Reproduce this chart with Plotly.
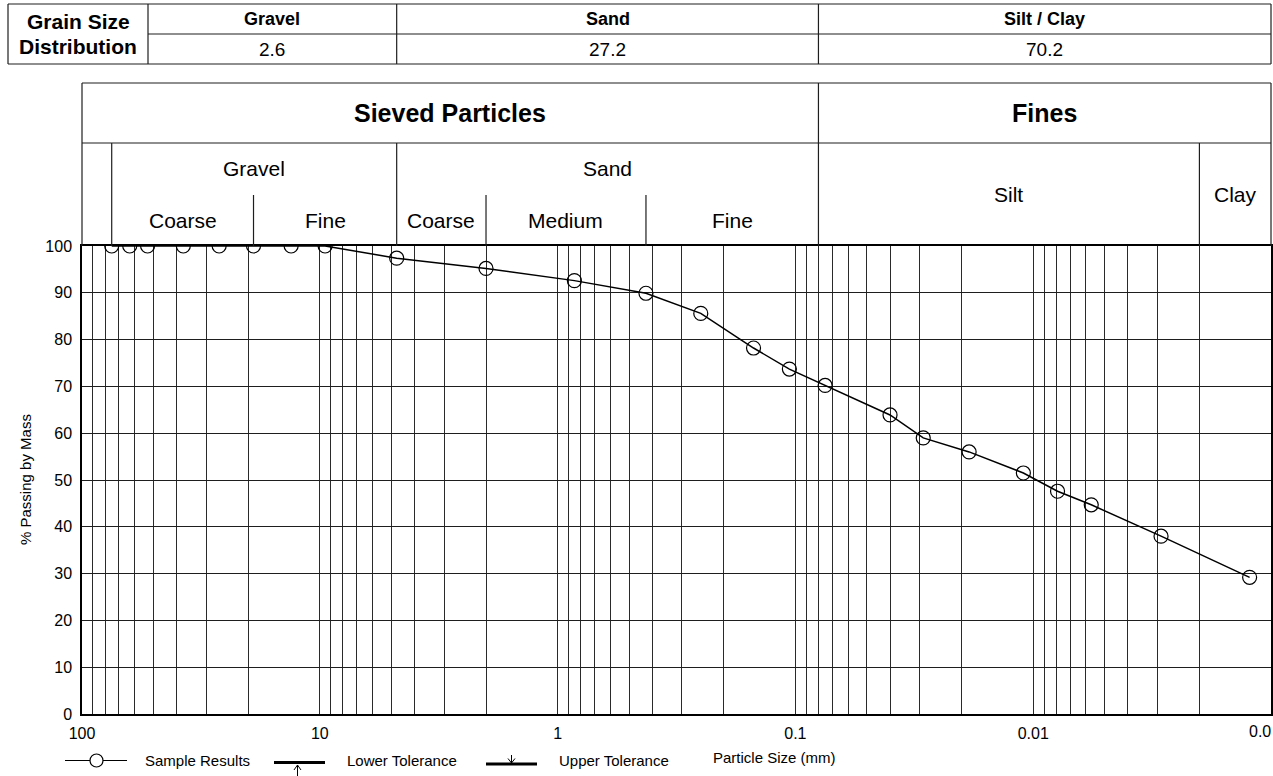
import math
import plotly.graph_objects as go

# ---------------- data ----------------
particle_size_mm = [75, 63, 53, 37.5, 26.5, 19, 13.2, 9.5, 4.75, 2.0, 0.85, 0.425, 0.25,
                    0.15, 0.106, 0.075, 0.040, 0.029, 0.0186, 0.011, 0.0079, 0.0057,
                    0.0029, 0.00123]
percent_passing = [100, 100, 100, 100, 100, 100, 100, 100, 97.4, 95.2, 92.6, 89.9, 85.6,
                   78.2, 73.7, 70.2, 63.9, 59.0, 56.0, 51.5, 47.6, 44.7, 38.0, 29.2]

grain_classes = ["Gravel", "Sand", "Silt / Clay"]
grain_percent = [2.6, 27.2, 70.2]

x_tick_decades = [100, 10, 1, 0.1, 0.01, 0.001]
x_tick_labels = ["100", "10", "1", "0.1", "0.01", "0.0"]
y_tick_values = [0, 10, 20, 30, 40, 50, 60, 70, 80, 90, 100]

# classification limits (mm)
cobble_limit = 75
gravel_coarse_fine = 19
gravel_sand = 4.75
sand_coarse_medium = 2.0
sand_medium_fine = 0.425
sand_fines = 0.08
silt_clay = 0.002

# ---------------- layout geometry ----------------
W, H = 1273, 776
ML, MR, MT, MB = 82, 2, 246, 62
PW, PH = W - ML - MR, H - MT - MB
X_MAX, X_MIN = 100, 0.001
FONT = "Liberation Sans, Arial, sans-serif"
LC = "#1e1e1e"


def xd(v):
    """data value -> paper x (reversed log axis)"""
    return (math.log10(X_MAX) - math.log10(v)) / (math.log10(X_MAX) - math.log10(X_MIN))


def xp(px):
    return (px - ML) / PW


def yp(py):
    return (H - MB - py) / PH


def gmid(a, b):
    return (a + b) / 2


shapes = []


def hline(x0, x1, y, w=1.2, color=LC):
    shapes.append(dict(type="line", xref="paper", yref="paper", x0=x0, x1=x1, y0=y, y1=y,
                       line=dict(color=color, width=w)))


def vline(x, y0, y1, w=1.2, color=LC):
    shapes.append(dict(type="line", xref="paper", yref="paper", x0=x, x1=x, y0=y0, y1=y1,
                       line=dict(color=color, width=w)))


annotations = []


def text(x, y, s, size, bold=False, xanchor="center", angle=0):
    annotations.append(dict(x=x, y=y, xref="paper", yref="paper", text=("<b>%s</b>" % s) if bold else s,
                            showarrow=False, xanchor=xanchor, yanchor="middle", textangle=angle,
                            font=dict(family=FONT, size=size, color="black")))


# ---------------- summary table ----------------
t_top, t_mid, t_bot = yp(4), yp(34), yp(64)
t_left, t_lab = xp(8), xp(148)
col_edges = [t_lab, xd(gravel_sand), xd(sand_fines), 1.0]
hline(t_left, 1.0, t_top)
hline(t_left, 1.0, t_bot)
hline(t_lab, 1.0, t_mid)
vline(t_left, t_bot, t_top)
for ce in col_edges:
    vline(ce, t_bot, t_top)
text(gmid(t_left, t_lab), yp(22), "Grain Size", 21, bold=True)
text(gmid(t_left, t_lab), yp(47), "Distribution", 21, bold=True)
for i, name in enumerate(grain_classes):
    cx = gmid(col_edges[i], col_edges[i + 1])
    text(cx, gmid(t_top, t_mid), name, 18, bold=True)
    text(cx, gmid(t_mid, t_bot), "%.1f" % grain_percent[i], 19)

# ---------------- classification header ----------------
h_top, h_row, h_sub = yp(83), yp(143), yp(195)
hline(0, 1, h_top)
hline(0, 1, h_row)
vline(0, 1, h_top)
vline(1, 1, h_top)
vline(xd(sand_fines), 1, h_top)
for b in [cobble_limit, gravel_sand, silt_clay]:
    vline(xd(b), 1, h_row)
for b in [gravel_coarse_fine, sand_coarse_medium, sand_medium_fine]:
    vline(xd(b), 1, h_sub)

text(gmid(0, xd(sand_fines)), gmid(h_top, h_row), "Sieved Particles", 25, bold=True)
text(gmid(xd(sand_fines), 1), gmid(h_top, h_row), "Fines", 25, bold=True)
text(gmid(xd(cobble_limit), xd(gravel_sand)), gmid(h_row, h_sub), "Gravel", 21)
text(gmid(xd(gravel_sand), xd(sand_fines)), gmid(h_row, h_sub), "Sand", 21)
text(gmid(xd(cobble_limit), xd(gravel_coarse_fine)), gmid(h_sub, 1), "Coarse", 21)
text(gmid(xd(gravel_coarse_fine), xd(gravel_sand)), gmid(h_sub, 1), "Fine", 21)
text(gmid(xd(gravel_sand), xd(sand_coarse_medium)), gmid(h_sub, 1), "Coarse", 21)
text(gmid(xd(sand_coarse_medium), xd(sand_medium_fine)), gmid(h_sub, 1), "Medium", 21)
text(gmid(xd(sand_medium_fine), xd(sand_fines)), gmid(h_sub, 1), "Fine", 21)
text(gmid(xd(sand_fines), xd(silt_clay)), gmid(h_row, 1), "Silt", 21)
text(gmid(xd(silt_clay), 1), gmid(h_row, 1), "Clay", 21)

# ---------------- axis titles & legend ----------------
text(xp(25), 0.5, "% Passing by Mass", 15, angle=-90)
text(xp(711), yp(757.5), "Particle Size (mm)", 15, xanchor="left")
text(xp(1273), yp(731), x_tick_labels[-1], 16, xanchor="right")

ly = yp(760.5)
hline(xp(65), xp(127), ly, w=1.2, color="black")
shapes.append(dict(type="circle", xref="paper", yref="paper", xsizemode="pixel", ysizemode="pixel",
                   xanchor=xp(96.5), yanchor=ly, x0=-6.5, x1=6.5, y0=-6.5, y1=6.5,
                   fillcolor="white", line=dict(color="black", width=1.2)))
text(xp(143), ly, "Sample Results", 15, xanchor="left")

hline(xp(274), xp(325), yp(762.5), w=3.2, color="black")
ax = xp(297.5)
shapes.append(dict(type="path", xref="paper", yref="paper",
                   path="M %f,%f L %f,%f M %f,%f L %f,%f L %f,%f" % (
                       ax, yp(777), ax, yp(765), xp(294), yp(770), ax, yp(765), xp(301), yp(770)),
                   line=dict(color="black", width=1)))
text(xp(345), ly, "Lower Tolerance", 15, xanchor="left")

hline(xp(486), xp(537), yp(764), w=3.2, color="black")
ax2 = xp(511.5)
shapes.append(dict(type="path", xref="paper", yref="paper",
                   path="M %f,%f L %f,%f M %f,%f L %f,%f L %f,%f" % (
                       ax2, yp(755), ax2, yp(763), xp(508), yp(758.5), ax2, yp(763), xp(515), yp(758.5)),
                   line=dict(color="black", width=1)))
text(xp(557), ly, "Upper Tolerance", 15, xanchor="left")

# ---------------- figure ----------------
grid_vals, grid_text = [], []
for dec, lab in zip(x_tick_decades, x_tick_labels):
    grid_vals.append(dec)
    grid_text.append(lab if dec != x_tick_decades[-1] else "")
    if dec != x_tick_decades[0]:
        for m in range(2, 10):
            grid_vals.append(m * dec)
            grid_text.append("")

fig = go.Figure()
fig.add_trace(go.Scatter(
    x=particle_size_mm, y=percent_passing, mode="lines+markers",
    line=dict(color="black", width=1.5),
    marker=dict(symbol="circle-open", size=14, color="black", line=dict(width=1.2)),
    name="Sample Results", showlegend=False, cliponaxis=True))

fig.update_layout(
    width=W, height=H, autosize=False,
    margin=dict(l=ML, r=MR, t=MT, b=MB, pad=0),
    paper_bgcolor="white", plot_bgcolor="white",
    font=dict(family=FONT, size=16, color="black"),
    showlegend=False,
    shapes=shapes, annotations=annotations,
    xaxis=dict(type="log", range=[math.log10(X_MAX), math.log10(X_MIN)],
               tickmode="array", tickvals=grid_vals, ticktext=grid_text,
               showgrid=True, gridcolor="#2a2a2a", gridwidth=1,
               ticks="outside", ticklen=4, tickcolor="rgba(0,0,0,0)",
               showline=True, linecolor="black", linewidth=1.5, mirror=True,
               zeroline=False, automargin=False,
               tickfont=dict(family=FONT, size=16, color="black")),
    yaxis=dict(range=[0, 100], tickmode="array", tickvals=y_tick_values,
               showgrid=True, gridcolor="#1e1e1e", gridwidth=1,
               ticks="outside", ticklen=5, tickcolor="rgba(0,0,0,0)",
               showline=True, linecolor="black", linewidth=1.5, mirror=True,
               zeroline=False, automargin=False,
               tickfont=dict(family=FONT, size=16, color="black")),
)

fig.write_html("out.html", config={"displayModeBar": False})
